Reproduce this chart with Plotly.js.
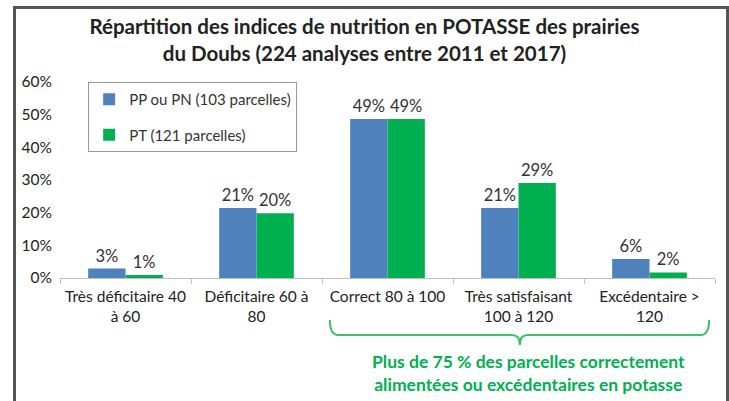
<!DOCTYPE html>
<html>
<head>
<meta charset="utf-8">
<script src="https://cdn.plot.ly/plotly-3.0.1.min.js"></script>
<style>
  html, body { margin: 0; padding: 0; background: #fff; }
  #chart { width: 729px; height: 401px; position: relative; }
  #frame { position: absolute; left: 13px; top: 6px; width: 710px; height: 400px;
           border-left: 3px solid #555; border-top: 3px solid #555; border-right: 3px solid #555;
           pointer-events: none; }
</style>
</head>
<body>
<div id="chart"></div>
<div id="frame"></div>
<script>
const categories = [
  "Très déficitaire 40<br>à 60",
  "Déficitaire 60 à<br>80",
  "Correct 80 à 100",
  "Très satisfaisant<br>100 à 120",
  "Excédentaire ><br>120"
];
const seriesNames = ["PP ou PN (103 parcelles)", "PT (121 parcelles)"];
const ppValues = [2.9, 21.4, 48.7, 21.4, 5.8];
const ptValues = [0.9, 19.8, 48.7, 29.1, 1.7];
const yTicks = [0, 10, 20, 30, 40, 50, 60];

const FONT = "Lato, 'Open Sans', sans-serif";

function barTrace(name, vals, color, group) {
  return {
    type: "bar", name: name, x: categories, y: vals,
    marker: { color: color },
    text: vals.map(v => Math.round(v) + "%"),
    textposition: "outside", cliponaxis: false, constraintext: "none",
    textfont: { family: FONT, size: 16.5, color: "#333" },
    legendgroup: group,
    hoverinfo: "x+y"
  };
}

const data = [
  barTrace(seriesNames[0], ppValues, "#4F81BD", "a"),
  barTrace(seriesNames[1], ptValues, "#00B050", "b")
];

const layout = {
  width: 729, height: 401,
  margin: { l: 60, r: 14, t: 82, b: 123 },
  paper_bgcolor: "#fff", plot_bgcolor: "#fff",
  font: { family: FONT, color: "#333" },
  title: {
    text: "<b>Répartition des indices de nutrition en POTASSE des prairies<br>du Doubs (224 analyses entre 2011 et 2017)</b>",
    font: { family: FONT, size: 20.5, color: "#222" },
    x: 0.5, xanchor: "center", y: 0.915, yanchor: "middle", yref: "container"
  },
  barmode: "group", bargap: 0.43, bargroupgap: 0,
  showlegend: true,
  legend: {
    x: 0.043, y: 1.0, xanchor: "left", yanchor: "top",
    bgcolor: "#fff", bordercolor: "#999", borderwidth: 1,
    font: { family: FONT, size: 15, color: "#333" },
    traceorder: "grouped", tracegroupgap: 13
  },
  xaxis: {
    type: "category", tickangle: 0, automargin: false,
    showline: true, linecolor: "#bfbfbf", linewidth: 1,
    ticks: "outside", tickson: "boundaries", ticklen: 5, tickcolor: "#bfbfbf",
    tickfont: { family: FONT, size: 15.5, color: "#222" },
    ticklabelstandoff: 4,
    showgrid: false, zeroline: false
  },
  yaxis: {
    range: [0, 60], tickvals: yTicks, ticktext: yTicks.map(v => v + "%"),
    showgrid: false, zeroline: false, showline: false,
    ticks: "", tickfont: { family: FONT, size: 15.5, color: "#222" },
    ticklabelstandoff: 7
  },
  shapes: [{
    type: "path", xref: "paper", yref: "paper",
    path: "M 0.412,-0.214 Q 0.412,-0.291 0.425,-0.291 L 0.69,-0.291 Q 0.702,-0.291 0.702,-0.342 Q 0.702,-0.291 0.714,-0.291 L 0.978,-0.291 Q 0.991,-0.291 0.991,-0.214",
    line: { color: "#3CC06A", width: 2 }
  }],
  annotations: [{
    xref: "paper", yref: "paper", x: 0.716, y: -0.485,
    xanchor: "center", yanchor: "middle", showarrow: false,
    text: "<b>Plus de 75 % des parcelles correctement<br>alimentées ou excédentaires en potasse</b>",
    font: { family: FONT, size: 17.5, color: "#00B050" }
  }]
};

Plotly.newPlot("chart", data, layout, { displayModeBar: false, staticPlot: true });
</script>
</body>
</html>
